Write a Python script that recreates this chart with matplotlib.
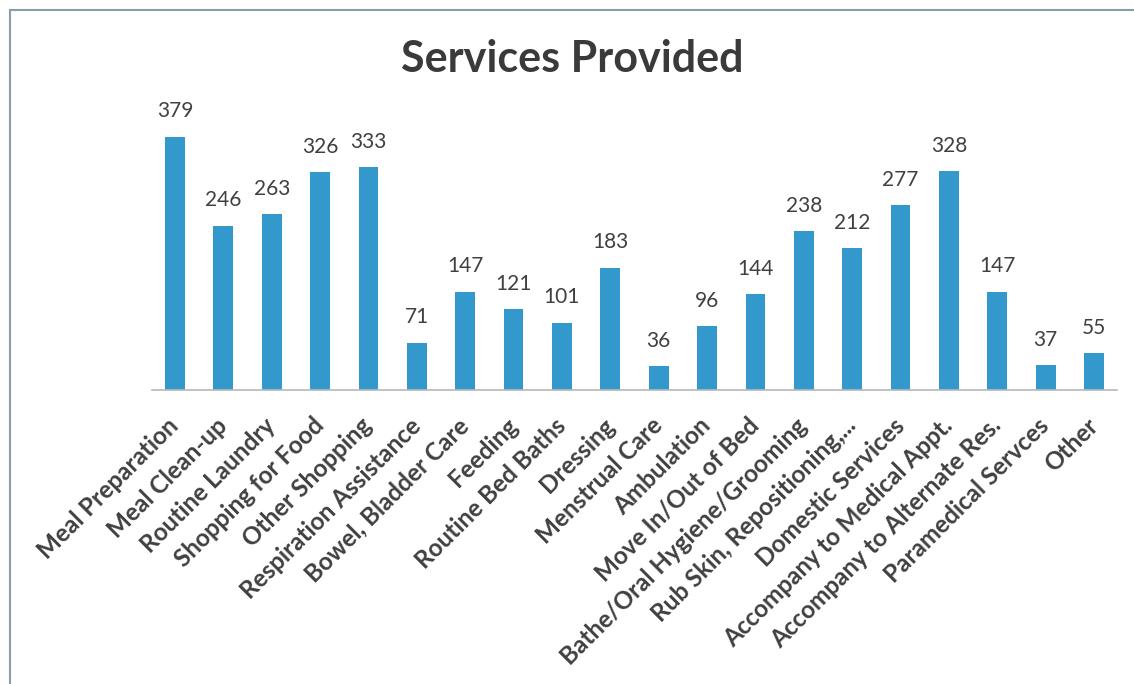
import numpy as np
import matplotlib.pyplot as plt
from matplotlib.lines import Line2D

services = ["Meal Preparation", "Meal Clean-up", "Routine Laundry", "Shopping for Food",
            "Other Shopping", "Respiration Assistance", "Bowel, Bladder Care", "Feeding",
            "Routine Bed Baths", "Dressing", "Menstrual Care", "Ambulation",
            "Move In/Out of Bed", "Bathe/Oral Hygiene/Grooming", "Rub Skin, Repositioning,...",
            "Domestic Services", "Accompany to Medical Appt.", "Accompany to Alternate Res.",
            "Paramedical Servces", "Other"]
counts = [379, 246, 263, 326, 333, 71, 147, 121, 101, 183,
          36, 96, 144, 238, 212, 277, 328, 147, 37, 55]

plt.rcParams['font.family'] = ['Lato', 'DejaVu Sans']
bar_color = "#3399cc"
text_color = "#404040"

fig = plt.figure(figsize=(11.34, 6.84), dpi=100)
ax = fig.add_axes([152 / 1134, 1 - 390 / 684, 965 / 1134, 290 / 684])

x = np.arange(len(services))
ax.bar(x, counts, width=0.41, color=bar_color, zorder=2)
for xi, v in zip(x, counts):
    ax.annotate(str(v), (xi, v), xytext=(0, 11), textcoords="offset points",
                ha="center", va="bottom", fontsize=15, color=text_color)

ax.set_xlim(-0.475, len(services) - 0.525)
ax.set_ylim(0, 434)
ax.set_yticks([])
ax.set_xticks(x)
ax.set_xticklabels(services, rotation=45, ha="right", va="center",
                   rotation_mode="anchor", fontsize=17.5, fontweight="bold",
                   color=text_color)
ax.tick_params(axis="x", length=0, pad=23)
for side in ["top", "right", "left"]:
    ax.spines[side].set_visible(False)
ax.spines["bottom"].set_color("#b8b8b8")
ax.spines["bottom"].set_linewidth(1.2)

fig.text(572 / 1134, 1 - 59 / 684, "Services Provided", ha="center", va="center",
         fontsize=31, fontweight="bold", color="#3a3a3a")

# outer chart frame (only left and top edges show)
fig.add_artist(Line2D([10 / 1134, 10 / 1134], [0, 1 - 10 / 684],
                      transform=fig.transFigure, color="#8a9ca4", lw=1.5))
fig.add_artist(Line2D([10 / 1134, 1], [1 - 10 / 684, 1 - 10 / 684],
                      transform=fig.transFigure, color="#8a9ca4", lw=1.5))

fig.savefig("out.png", dpi=100, facecolor="white")
